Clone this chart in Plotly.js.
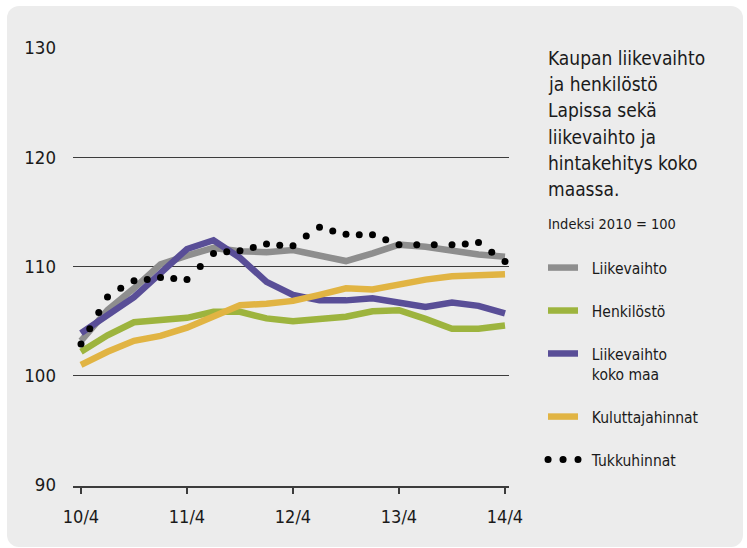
<!DOCTYPE html>
<html>
<head>
<meta charset="utf-8">
<script src="https://cdn.plot.ly/plotly-3.0.1.min.js"></script>
<style>
  html, body { margin: 0; padding: 0; background: #ffffff; }
  #panel { position: absolute; left: 7px; top: 6px; width: 736px; height: 541px; background: #ececec; border-radius: 12px; }
  #chart { position: absolute; left: 0; top: 0; width: 747px; height: 548px; }
</style>
</head>
<body>
<div id="panel"></div>
<div id="chart"></div>
<script>
// ---- data (quarter index 0 = 10/4 ... 16 = 14/4) ----
const quarterIndex = [0, 1, 2, 3, 4, 5, 6, 7, 8, 9, 10, 11, 12, 13, 14, 15, 16];
const tickPositions = [0, 4, 8, 12, 16];
const tickLabels = ['10/4', '11/4', '12/4', '13/4', '14/4'];
const yTicks = [90, 100, 110, 120, 130];

const liikevaihto = [103.2, 106.0, 108.0, 110.2, 111.0, 111.7, 111.4, 111.3, 111.5, 111.0, 110.5, 111.2, 112.0, 111.8, 111.4, 111.1, 110.9];
const henkilosto = [102.2, 103.7, 104.9, 105.1, 105.3, 105.85, 105.85, 105.25, 105.0, 105.2, 105.4, 105.9, 106.0, 105.2, 104.3, 104.3, 104.6];
const liikevaihtoKokoMaa = [103.9, 105.6, 107.2, 109.4, 111.6, 112.4, 110.8, 108.6, 107.4, 106.9, 106.9, 107.1, 106.7, 106.3, 106.7, 106.4, 105.7];
const kuluttajahinnat = [101.0, 102.2, 103.2, 103.65, 104.4, 105.5, 106.45, 106.6, 106.85, 107.4, 108.0, 107.9, 108.4, 108.8, 109.1, 109.2, 109.3];

const tukkuX = [0, 0.33, 0.67, 1, 1.5, 2, 2.5, 3, 3.5, 4, 4.5, 5, 5.5, 6, 6.5, 7, 7.5, 8, 8.5, 9, 9.5, 10, 10.5, 11, 11.5, 12, 12.67, 13.33, 14, 14.5, 15, 15.5, 16];
const tukkuhinnat = [102.9, 104.3, 105.8, 107.2, 108.0, 108.7, 108.8, 109.0, 108.9, 108.8, 110.0, 111.2, 111.35, 111.45, 111.75, 112.05, 111.95, 111.9, 112.8, 113.6, 113.25, 112.95, 112.9, 112.9, 112.45, 112.0, 112.0, 112.0, 112.0, 112.05, 112.2, 111.3, 110.45];

const seriesNames = ['Liikevaihto', 'Henkilöstö', 'Liikevaihto<br>koko maa', 'Kuluttajahinnat', 'Tukkuhinnat'];
const titleLines = ['Kaupan liikevaihto', 'ja henkilöstö', 'Lapissa sekä', 'liikevaihto ja', 'hintakehitys koko', 'maassa.'];
const subTitle = 'Indeksi 2010 = 100';

// ---- styling ----
const FONT = "'DejaVu Sans Condensed', 'Liberation Sans Narrow', sans-serif";
const TXT = '#1a1a1a';
const colors = ['#8e8e8e', '#9db43e', '#594e97', '#e1b443', '#000000'];
const LW = 6.5;
const PAD = '\u00a0\u00a0';   // small gap between legend sample and label

const T = 47, B = 62, L = 73, R = 238;
const H = 548 - T - B;
const W = 747 - L - R;
const py = p => (548 - B - p) / H;   // pixel y -> paper y
const px = p => (p - L) / W;         // pixel x -> paper x
const padName = n => n.split('<br>').map(s => PAD + s).join('<br>');

const lineSeries = [liikevaihto, henkilosto, liikevaihtoKokoMaa, kuluttajahinnat];
const traces = lineSeries.map((vals, i) => ({
  type: 'scatter', mode: 'lines', x: quarterIndex, y: vals,
  name: padName(seriesNames[i]), legendgroup: 'g' + i,
  line: { color: colors[i], width: LW },
  hoverinfo: 'skip'
}));
traces.push({
  type: 'scatter', mode: 'markers', x: tukkuX, y: tukkuhinnat,
  name: padName(seriesNames[4]), legendgroup: 'g4', showlegend: false,
  marker: { color: colors[4], size: 7, line: { width: 0 } },
  hoverinfo: 'skip'
});
// legend entry for the dotted series (three-dot sample)
traces.push({
  type: 'scatter', mode: 'lines', x: [null], y: [null],
  name: padName(seriesNames[4]), legendgroup: 'g4',
  line: { color: colors[4], width: 7, dash: '0.1px,14.9px' },
  hoverinfo: 'skip'
});

const annotations = titleLines.map((t, k) => ({
  xref: 'paper', yref: 'paper', x: px(546), y: py(58 + 26.2 * k),
  xanchor: 'left', yanchor: 'middle', showarrow: false, align: 'left',
  text: t, font: { family: FONT, size: 19, color: TXT }
}));
annotations.push({
  xref: 'paper', yref: 'paper', x: px(546), y: py(224),
  xanchor: 'left', yanchor: 'middle', showarrow: false, align: 'left',
  text: subTitle, font: { family: FONT, size: 14.5, color: TXT }
});

const layout = {
  width: 747, height: 548,
  margin: { l: L, r: R, t: T, b: B, pad: 0 },
  paper_bgcolor: 'rgba(0,0,0,0)', plot_bgcolor: 'rgba(0,0,0,0)',
  font: { family: FONT, color: TXT },
  hovermode: false,
  xaxis: {
    range: [-0.302, 16.151], tickmode: 'array', tickvals: tickPositions, ticktext: tickLabels,
    showgrid: false, zeroline: false, showline: true, linecolor: '#3c3c3c', linewidth: 1.5,
    ticks: 'outside', ticklen: 6, tickwidth: 1.3, tickcolor: '#3c3c3c',
    tickfont: { family: FONT, size: 18, color: TXT }, ticklabelstandoff: 8, fixedrange: true
  },
  yaxis: {
    range: [90 - 1 / 10.925, 130 + 1 / 10.925], tickmode: 'array', tickvals: yTicks,
    showgrid: true, gridcolor: '#3c3c3c', gridwidth: 1.2, zeroline: false, showline: false,
    ticks: '', tickfont: { family: FONT, size: 18.5, color: TXT }, ticklabelstandoff: 16, fixedrange: true
  },
  showlegend: true,
  legend: {
    x: px(543), y: py(251), xanchor: 'left', yanchor: 'top',
    bgcolor: 'rgba(0,0,0,0)', borderwidth: 0,
    font: { family: FONT, size: 15.5, color: TXT },
    traceorder: 'grouped', tracegroupgap: 19.8, valign: 'top',
    itemclick: false, itemdoubleclick: false
  },
  annotations: annotations
};

Plotly.newPlot('chart', traces, layout, { displayModeBar: false, staticPlot: true }).then(gd => {
  gd.querySelectorAll('.legend path.js-line').forEach(p => {
    const d = p.style.strokeDasharray;
    if (d && d !== 'none') p.style.strokeLinecap = 'round';
  });
});
</script>
</body>
</html>
